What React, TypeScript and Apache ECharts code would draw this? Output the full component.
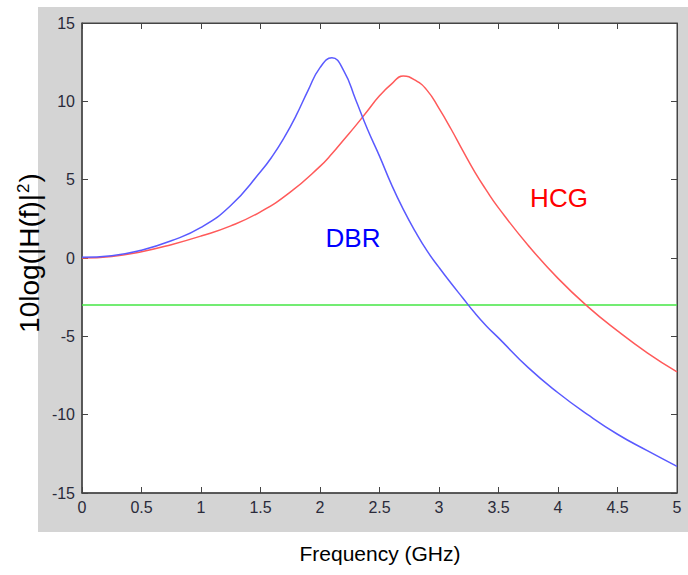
import React, { useEffect, useRef } from "react";
import * as echarts from "echarts";

const xTicks = ["0", "0.5", "1", "1.5", "2", "2.5", "3", "3.5", "4", "4.5", "5"];
const yTicks = ["-15", "-10", "-5", "0", "5", "10", "15"];

const dbrFreq = [0, 0.25, 0.5, 0.75, 1.0, 1.25, 1.5, 1.6, 1.7, 1.8, 1.9, 2.0, 2.1, 2.2, 2.3, 2.4, 2.5, 2.6, 2.7, 2.8, 2.9, 3.0, 3.1, 3.2, 3.3, 3.4, 3.5, 3.75, 4.0, 4.25, 4.5, 4.75, 5.0];
const dbrGain = [0.05, 0.15, 0.5, 1.1, 1.95, 3.35, 5.5, 6.5, 7.7, 9.1, 10.7, 12.15, 12.78, 11.95, 10.1, 8.2, 6.5, 4.7, 3.1, 1.7, 0.45, -0.6, -1.6, -2.55, -3.5, -4.35, -5.1, -7.0, -8.6, -10.0, -11.25, -12.3, -13.3];

const hcgFreq = [0, 0.25, 0.5, 0.75, 1.0, 1.25, 1.5, 1.75, 2.0, 2.1, 2.2, 2.3, 2.4, 2.5, 2.6, 2.7, 2.8, 2.9, 3.0, 3.1, 3.2, 3.3, 3.4, 3.5, 3.75, 4.0, 4.25, 4.5, 4.75, 5.0];
const hcgGain = [0.0, 0.1, 0.4, 0.85, 1.4, 2.05, 2.95, 4.2, 5.85, 6.65, 7.55, 8.45, 9.4, 10.35, 11.1, 11.62, 11.35, 10.7, 9.55, 8.25, 6.85, 5.5, 4.3, 3.2, 0.8, -1.3, -3.1, -4.65, -6.05, -7.27];

const thresholdFreq = [0, 5];
const thresholdGain = [-3, -3];

const seriesNames = ["DBR", "HCG"];

const pairs = (xs: number[], ys: number[]) => xs.map((x, i) => [x, ys[i]]);

const FONT = 'Arial, "Liberation Sans", sans-serif';

export default function App() {
  const ref = useRef<HTMLDivElement>(null);
  useEffect(() => {
    if (!ref.current) return;
    const chart = echarts.init(ref.current, null, { renderer: "svg" });
    const tickColor = "#444";
    const commonX = {
      type: "value",
      min: 0,
      max: 5,
      interval: 0.5,
      splitLine: { show: false },
    };
    const commonY = {
      type: "value",
      min: -15,
      max: 15,
      interval: 5,
      splitLine: { show: false },
    };
    chart.setOption({
      animation: false,
      backgroundColor: "#ffffff",
      textStyle: { fontFamily: FONT },
      graphic: [
        {
          type: "rect",
          z: -10,
          silent: true,
          shape: { x: 38, y: 7, width: 650, height: 525 },
          style: { fill: "#d4d4d4" },
        },
        {
          type: "text",
          x: 29,
          y: 253,
          rotation: Math.PI / 2,
          style: {
            text: "{m|10log(|H(f)|}{s|2}{m|)}",
            textAlign: "center",
            textVerticalAlign: "middle",
            rich: {
              m: { font: `28px ${FONT}`, fill: "#000" },
              s: { font: `17px ${FONT}`, fill: "#000", verticalAlign: "top", padding: [0, 1, 10, 1] },
            },
          },
        },
        {
          type: "text",
          x: 380,
          y: 553,
          style: {
            text: "Frequency (GHz)",
            font: `21px ${FONT}`,
            fill: "#000",
            textAlign: "center",
            textVerticalAlign: "middle",
          },
        },
        {
          type: "text",
          x: 353,
          y: 238,
          z: 100,
          style: {
            text: seriesNames[0],
            font: `26px ${FONT}`,
            fill: "#0000ff",
            textAlign: "center",
            textVerticalAlign: "middle",
          },
        },
        {
          type: "text",
          x: 559,
          y: 198,
          z: 100,
          style: {
            text: seriesNames[1],
            font: `26px ${FONT}`,
            fill: "#ff0000",
            textAlign: "center",
            textVerticalAlign: "middle",
          },
        },
      ],
      grid: {
        left: 82,
        top: 23,
        width: 595,
        height: 470,
        show: true,
        backgroundColor: "#ffffff",
        borderColor: tickColor,
        borderWidth: 1,
      },
      xAxis: [
        {
          ...commonX,
          position: "bottom",
          axisLine: { show: true, onZero: false, lineStyle: { color: tickColor, width: 1.5 } },
          axisTick: { show: true, inside: true, length: 6, lineStyle: { color: tickColor } },
          axisLabel: {
            show: true,
            color: "#2a2a3a",
            fontSize: 16,
            fontFamily: FONT,
            margin: 6,
            formatter: (v: number) => {
              const idx = Math.round(v / 0.5);
              return xTicks[idx] ?? "";
            },
          },
        },
        {
          ...commonX,
          position: "top",
          axisLine: { show: true, onZero: false, lineStyle: { color: tickColor, width: 1 } },
          axisTick: { show: true, inside: true, length: 6, lineStyle: { color: tickColor } },
          axisLabel: { show: false },
        },
      ],
      yAxis: [
        {
          ...commonY,
          position: "left",
          axisLine: { show: true, onZero: false, lineStyle: { color: tickColor, width: 1.5 } },
          axisTick: { show: true, inside: true, length: 6, lineStyle: { color: tickColor } },
          axisLabel: {
            show: true,
            color: "#2a2a3a",
            fontSize: 16,
            fontFamily: FONT,
            margin: 7,
            formatter: (v: number) => {
              const idx = Math.round((v + 15) / 5);
              return yTicks[idx] ?? "";
            },
          },
        },
        {
          ...commonY,
          position: "right",
          axisLine: { show: true, onZero: false, lineStyle: { color: tickColor, width: 1 } },
          axisTick: { show: true, inside: true, length: 6, lineStyle: { color: tickColor } },
          axisLabel: { show: false },
        },
      ],
      series: [
        {
          name: "threshold",
          type: "line",
          data: pairs(thresholdFreq, thresholdGain),
          showSymbol: false,
          lineStyle: { color: "#44e644", width: 1.5 },
          z: 2,
        },
        {
          name: seriesNames[1],
          type: "line",
          data: pairs(hcgFreq, hcgGain),
          showSymbol: false,
          smooth: 0.5,
          lineStyle: { color: "#ff5a5a", width: 1.5 },
          z: 3,
        },
        {
          name: seriesNames[0],
          type: "line",
          data: pairs(dbrFreq, dbrGain),
          showSymbol: false,
          smooth: 0.5,
          lineStyle: { color: "#5a5aff", width: 1.5 },
          z: 4,
        },
      ],
    });
    return () => chart.dispose();
  }, []);
  return (
    <div
      ref={ref}
      style={{ position: "fixed", left: 0, top: 0, width: 688, height: 575 }}
    />
  );
}
